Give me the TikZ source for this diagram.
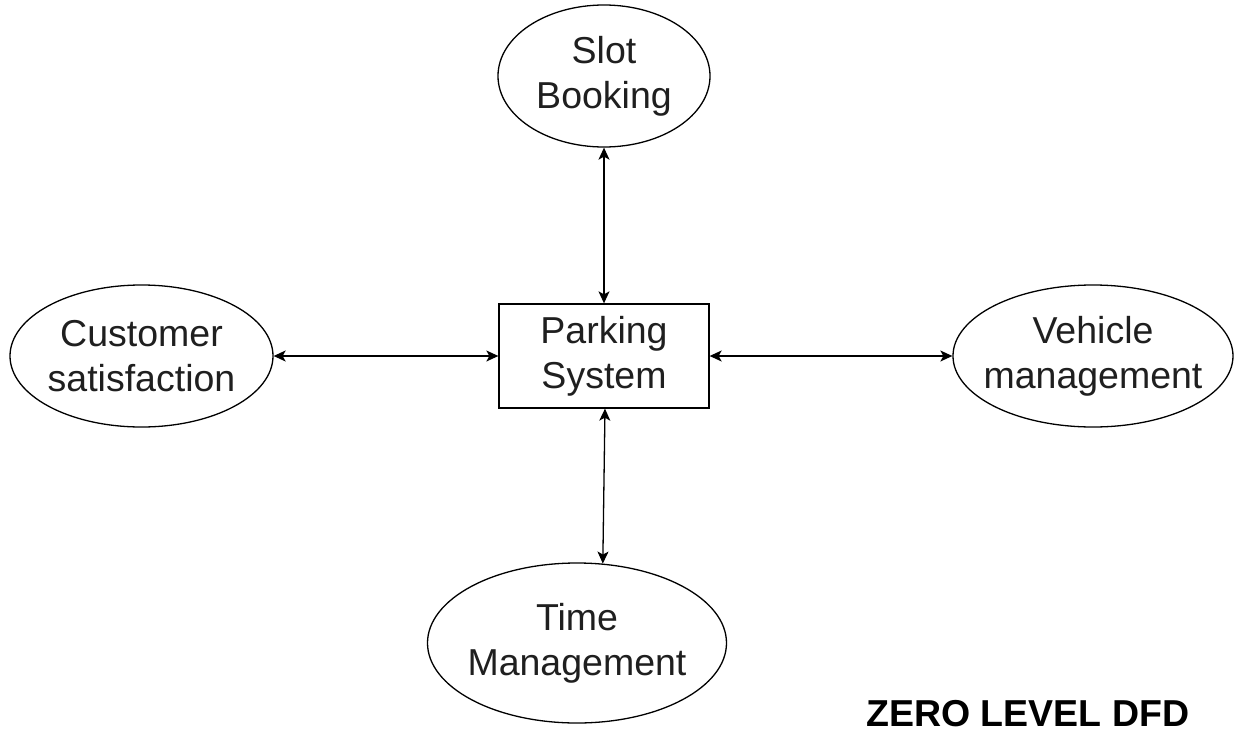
\documentclass[tikz,border=0pt]{standalone}
\usepackage{fontspec}
\setmainfont{Liberation Sans}
\usetikzlibrary{shapes.geometric,arrows.meta}
\begin{document}
\begin{tikzpicture}[x=1pt,y=-1pt,
  proc/.style={ellipse,draw,line width=1.3pt,inner sep=0pt},
  lbl/.style={align=center,inner sep=0pt,text=black!88,font=\fontsize{37.5}{45}\selectfont},
  sysbox/.style={draw,line width=1.3pt,inner sep=0pt,align=center,text=black!88,
    minimum width=210pt,minimum height=104pt,font=\fontsize{37.5}{45}\selectfont},
  tip/.style={Stealth[length=12pt,width=11pt,inset=3pt]},
  flow/.style={line width=1.3pt,{Stealth[length=12pt,width=11pt,inset=3pt]}-{Stealth[length=12pt,width=11pt,inset=3pt]}}]
\useasboundingbox (0,0) rectangle (1235,734);

% central process
\node[sysbox] (sys) at (604,356) {Parking\\System};

% surrounding entities
\node[proc,minimum width=212pt,minimum height=142pt] (slot) at (604,76) {};
\node[lbl] (slotT) at (slot) {Slot\\Booking};

\node[proc,minimum width=263pt,minimum height=142pt] (cust) at (141.5,356) {};
\node[lbl] (custT) at (cust) {Customer\\satisfaction};

\node[proc,minimum width=280pt,minimum height=142pt] (veh) at (1093,356) {};
\node[lbl] (vehT) at (veh) {Vehicle\\management};

\node[proc,minimum width=299pt,minimum height=160pt] (time) at (577,643) {};
\node[lbl] (timeT) at (time) {Time\\Management};

% data flows
\draw[flow] (sys.north) -- (slot.south);
\draw[flow] (cust.east) -- (sys.west);
\draw[flow] (sys.east) -- (veh.west);
\draw[flow] ([xshift=1pt]sys.south) -- (time.72);

% caption
\node[anchor=base west,inner sep=0pt,font=\fontsize{37.5}{45}\selectfont\bfseries] (cap) at (866,726) {ZERO LEVEL DFD};
\end{tikzpicture}
\end{document}
